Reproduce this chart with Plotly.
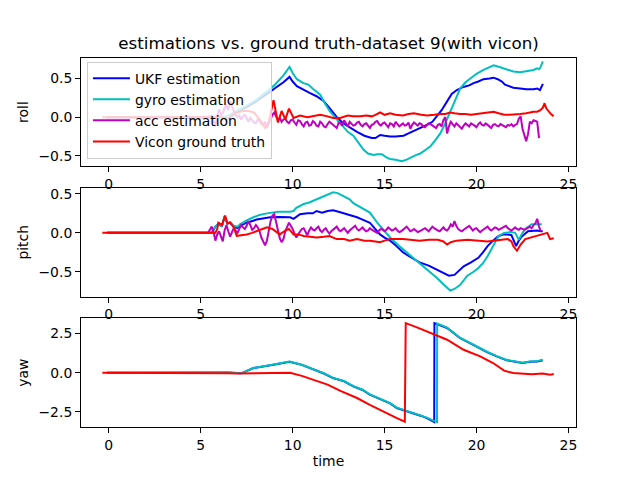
import plotly.graph_objects as go

# ---------------- data ----------------
# roll
roll_ukf_t = [-0.1, 2, 4, 6.3, 6.5, 7.0, 7.5, 8.0, 8.5, 9.0, 9.5, 9.83, 10.0, 10.23, 10.6, 10.95, 11.3, 11.68, 12.0, 12.4,
              12.75, 13.13, 13.5, 13.9, 14.3, 14.5, 14.76, 15.0, 15.3, 15.6, 16.03, 16.3, 16.57, 17.0, 17.3, 17.6, 17.85,
              18.1, 18.39, 18.65, 18.93, 19.29, 19.6, 19.84, 20.1, 20.38, 20.7, 20.93, 21.15, 21.38, 21.55, 21.74, 22.0,
              22.38, 22.7, 23.1, 23.3, 23.45, 23.61]
roll_ukf_v = [0.0, 0.0, 0.0, 0.0, 0.02, 0.07, 0.13, 0.2, 0.28, 0.36, 0.45, 0.52, 0.46, 0.40, 0.35, 0.31, 0.27, 0.21, 0.12, 0.0,
              -0.08, -0.14, -0.19, -0.24, -0.27, -0.27, -0.23, -0.24, -0.25, -0.25, -0.24, -0.21, -0.18, -0.14, -0.10, -0.06, 0.01,
              0.09, 0.20, 0.30, 0.35, 0.39, 0.41, 0.44, 0.46, 0.49, 0.50, 0.51, 0.49, 0.46, 0.42, 0.40, 0.38,
              0.37, 0.36, 0.36, 0.37, 0.35, 0.43]

roll_gyro_t = [-0.1, 2, 4, 6.3, 6.5, 7.0, 7.5, 8.0, 8.5, 9.0, 9.5, 9.83, 10.0, 10.23, 10.59, 10.85, 11.13, 11.5, 11.75, 12.04,
               12.4, 12.76, 13.0, 13.3, 13.6, 13.85, 14.1, 14.4, 14.6, 14.85, 15.1, 15.3, 15.6, 15.94, 16.2, 16.49, 16.7,
               16.94, 17.2, 17.48, 17.75, 18.03, 18.3, 18.57, 18.85, 19.11, 19.4, 19.66, 20.0, 20.38, 20.65, 20.93, 21.2,
               21.47, 21.75, 22.0, 22.38, 22.65, 22.92, 23.1, 23.29, 23.4, 23.47, 23.61]
roll_gyro_v = [0.0, 0.0, 0.0, 0.0, 0.02, 0.08, 0.15, 0.22, 0.31, 0.41, 0.54, 0.65, 0.57, 0.49, 0.44, 0.42, 0.36, 0.29, 0.18, 0.07,
               -0.03, -0.13, -0.19, -0.24, -0.33, -0.42, -0.47, -0.49, -0.48, -0.48, -0.52, -0.54, -0.55, -0.57, -0.55, -0.51, -0.49,
               -0.47, -0.43, -0.38, -0.30, -0.21, -0.08, 0.07, 0.23, 0.37, 0.45, 0.50, 0.56, 0.61, 0.64, 0.67, 0.65,
               0.63, 0.61, 0.59, 0.58, 0.59, 0.60, 0.61, 0.63, 0.62, 0.64, 0.72]

roll_acc_t = [-0.1, 2, 4, 5.4, 5.6, 5.7, 5.8, 5.9, 6.0, 6.1, 6.2, 6.3, 6.4, 6.5, 6.6, 6.7, 6.8, 6.9, 7.0, 7.1, 7.2, 7.3, 7.4,
              7.5, 7.6, 7.7, 7.8, 7.9, 8.0, 8.1, 8.2, 8.3, 8.4, 8.5, 8.6, 8.7, 8.8, 8.9, 9.0, 9.1, 9.2, 9.3, 9.4, 9.5,
              9.6, 9.7, 9.8, 9.9, 10.0, 10.1, 10.2, 10.3, 10.4, 10.5, 10.6, 10.7, 10.8, 10.9, 11.0, 11.1, 11.2, 11.3,
              11.4, 11.5, 11.6, 11.7, 11.8, 11.9, 12.0, 12.1, 12.2, 12.3, 12.4, 12.5, 12.6, 12.7, 12.8, 12.9, 13.0,
              13.1, 13.2, 13.3, 13.4, 13.5, 13.6, 13.7, 13.8, 13.9, 14.0, 14.1, 14.2, 14.3, 14.4, 14.5, 14.6, 14.7,
              14.8, 14.9, 15.0, 15.1, 15.2, 15.3, 15.4, 15.5, 15.6, 15.7, 15.8, 15.9, 16.0, 16.1, 16.2, 16.3, 16.4,
              16.5, 16.6, 16.7, 16.8, 16.9, 17.0, 17.1, 17.2, 17.3, 17.4, 17.5, 17.6, 17.7, 17.8, 17.9, 18.0, 18.1,
              18.2, 18.3, 18.4, 18.5, 18.6, 18.7, 18.8, 18.9, 19.0, 19.1, 19.2, 19.3, 19.4, 19.5, 19.6, 19.7, 19.8,
              19.9, 20.0, 20.1, 20.2, 20.3, 20.4, 20.5, 20.6, 20.7, 20.8, 20.9, 21.0, 21.1, 21.2, 21.3, 21.4, 21.5,
              21.6, 21.7, 21.8, 21.9, 22.0, 22.1, 22.2, 22.3, 22.4, 22.5, 22.6, 22.7, 22.8, 22.9, 23.0, 23.1, 23.2,
              23.3, 23.4, 23.5, 23.6]
roll_acc_v = [0.0, 0.0, 0.0, 0.0, 0.02, -0.05, -0.12, 0.02, 0.10, 0.03, 0.05, 0.12, 0.15, 0.09, 0.21, 0.14, 0.08, 0.03, 0.0,
              0.02, -0.03, 0.01, 0.03, -0.02, -0.06, -0.01, -0.04, -0.07, -0.08, -0.03, -0.05, -0.09, -0.10, -0.06, -0.14,
              -0.08, -0.02, 0.03, 0.06, 0.0, -0.04, -0.01, -0.06, -0.03, -0.02, -0.06, -0.08, -0.04, -0.03, -0.07, -0.10,
              -0.04, -0.05, -0.09, -0.12, -0.07, -0.06, -0.11, -0.10, -0.05, -0.07, -0.11, -0.12, -0.06, -0.08, -0.12,
              -0.13, -0.09, -0.06, -0.08, -0.10, -0.13, -0.14, -0.07, -0.08, -0.11, -0.04, -0.08, -0.12, -0.06, -0.08,
              -0.11, -0.10, -0.07, -0.06, -0.10, -0.12, -0.09, -0.08, -0.11, -0.14, -0.10, -0.09, -0.06, -0.05, -0.09,
              -0.11, -0.08, -0.07, -0.10, -0.13, -0.08, -0.09, -0.12, -0.06, -0.09, -0.12, -0.10, -0.08, -0.11, -0.10,
              -0.07, -0.15, -0.10, -0.07, -0.09, -0.11, -0.08, -0.09, -0.12, -0.13, -0.10, -0.08, -0.09, -0.11, -0.13,
              -0.14, -0.10, -0.09, -0.12, -0.04, 0.0, -0.21, -0.12, -0.06, -0.09, -0.12, -0.08, -0.10, -0.13, -0.15,
              -0.11, -0.08, -0.10, -0.12, -0.08, -0.09, -0.11, -0.13, -0.09, -0.07, -0.10, -0.11, -0.08, -0.10, -0.12,
              -0.14, -0.10, -0.09, -0.11, -0.12, -0.09, -0.10, -0.12, -0.13, -0.10, -0.11, -0.09, -0.12, -0.10, -0.09,
              -0.02, 0.01, -0.15, -0.24, -0.31, -0.22, -0.06, -0.08, -0.04, -0.05, -0.06, -0.27]

roll_vicon_t = [-0.35, 2, 4, 5.8, 6.0, 6.5, 6.96, 7.3, 7.6, 7.9, 8.2, 8.5, 8.7, 8.96, 9.2, 9.4, 9.6, 9.8, 10.05, 10.4, 10.8,
                11.2, 11.5, 11.9, 12.2, 12.58, 12.8, 13.0, 13.3, 13.67, 14.0, 14.3, 14.5, 14.76, 15.0, 15.3, 15.6, 16.0,
                16.3, 16.6, 17.0, 17.3, 17.7, 18.0, 18.3, 18.57, 18.8, 19.1, 19.4, 19.7, 20.0, 20.38, 20.7, 20.93, 21.2,
                21.5, 21.8, 22.1, 22.38, 22.7, 23.1, 23.3, 23.47, 23.6, 23.7, 23.8, 23.92, 24.05, 24.19]
roll_vicon_v = [0.0, 0.0, 0.0, 0.0, 0.01, -0.02, 0.06, 0.08, 0.08, 0.06, -0.03, -0.14, -0.06, 0.22, -0.07, 0.08, -0.03, 0.11,
                -0.01, 0.02, 0.0, 0.02, 0.03, 0.01, -0.01, -0.01, 0.01, 0.02, 0.01, 0.01, 0.02, 0.01, 0.03, 0.06, 0.03, 0.05,
                0.03, 0.02, 0.04, 0.05, 0.03, 0.02, 0.03, 0.04, 0.04, 0.06, 0.05, 0.04, 0.04, 0.03, 0.04, 0.05, 0.06, 0.07,
                0.05, 0.03, 0.03, 0.04, 0.04, 0.05, 0.07, 0.07, 0.09, 0.12, 0.18, 0.11, 0.07, 0.04, 0.01]

# pitch
pitch_ukf_t = [-0.1, 2, 4, 5.4, 5.6, 5.8, 6.0, 6.15, 6.3, 6.45, 6.6, 6.8, 7.0, 7.14, 7.5, 8.05, 8.5, 8.78, 9.3, 9.86, 10.05,
               10.2, 10.4, 10.8, 11.1, 11.3, 11.6, 11.9, 12.2, 12.5, 12.8, 13.1, 13.5, 13.8, 14.2, 14.45, 14.75, 15.0,
               15.3, 15.6, 16.0, 16.4, 16.9, 17.4, 17.85, 18.2, 18.5, 18.8, 19.0, 19.3, 19.7, 20.1, 20.35, 20.6, 20.9,
               21.2, 21.5, 21.7, 21.9, 22.0, 22.15, 22.3, 22.45, 22.8, 23.1, 23.3, 23.5, 23.6]
pitch_ukf_v = [0.0, 0.0, 0.0, 0.0, 0.0, 0.08, 0.12, 0.08, 0.21, 0.12, 0.13, 0.08, 0.06, 0.09, 0.13, 0.17, 0.19, 0.20, 0.205,
               0.20, 0.18, 0.21, 0.24, 0.25, 0.25, 0.28, 0.26, 0.28, 0.29, 0.27, 0.25, 0.23, 0.20, 0.17, 0.13, 0.06, -0.02,
               -0.06, -0.10, -0.16, -0.25, -0.31, -0.38, -0.42, -0.47, -0.51, -0.55, -0.54, -0.50, -0.43, -0.38, -0.32,
               -0.25, -0.17, -0.10, -0.04, -0.02, -0.02, -0.03, -0.08, -0.17, -0.10, -0.05, 0.02, 0.03, 0.03, 0.02, 0.02]

pitch_gyro_t = [-0.1, 2, 4, 5.4, 5.6, 5.8, 6.0, 6.15, 6.3, 6.45, 6.6, 6.8, 7.0, 7.14, 7.5, 7.87, 8.2, 8.6, 9.2, 9.86, 10.05,
                10.2, 10.6, 10.9, 11.3, 11.6, 11.9, 12.2, 12.45, 12.7, 13.1, 13.3, 13.7, 14.2, 14.6, 15.0, 15.3, 15.85,
                16.4, 16.9, 17.4, 17.85, 18.2, 18.57, 18.8, 19.1, 19.5, 19.84, 20.1, 20.35, 20.6, 20.9, 21.2, 21.5,
                21.85, 22.1, 22.3, 22.5, 22.7, 23.0, 23.3, 23.55]
pitch_gyro_v = [0.0, 0.0, 0.0, 0.0, 0.0, 0.08, 0.12, 0.08, 0.22, 0.12, 0.14, 0.09, 0.08, 0.11, 0.16, 0.20, 0.23, 0.25, 0.27,
                0.27, 0.28, 0.32, 0.37, 0.39, 0.43, 0.45, 0.48, 0.52, 0.51, 0.48, 0.43, 0.38, 0.33, 0.26, 0.13, 0.02, -0.06,
                -0.18, -0.29, -0.38, -0.48, -0.58, -0.66, -0.74, -0.72, -0.67, -0.55, -0.50, -0.45, -0.39, -0.30, -0.16,
                -0.04, 0.0, 0.01, 0.0, -0.09, 0.0, 0.06, 0.11, 0.11, 0.11]

pitch_acc_t = roll_acc_t
pitch_acc_v = [0.0, 0.0, 0.0, 0.0, 0.08, 0.01, -0.10, -0.02, 0.02, -0.06, -0.11, 0.03, 0.10, 0.02, -0.05, 0.01, 0.06, 0.03,
               0.0, 0.05, 0.10, 0.07, 0.05, 0.09, 0.15, 0.10, 0.04, 0.06, 0.10, 0.07, 0.02, -0.06, -0.12, -0.16, -0.10, 0.03,
               0.15, 0.22, 0.24, 0.14, 0.02, -0.07, -0.12, -0.08, 0.02, 0.08, 0.13, 0.09, 0.05, -0.01, -0.06, -0.02, 0.02,
               0.05, 0.06, 0.01, -0.03, 0.03, 0.07, 0.04, 0.03, 0.06, 0.08, 0.03, 0.01, 0.04, 0.06, 0.02, -0.01, 0.02, 0.04,
               0.07, 0.08, 0.04, 0.02, 0.04, 0.06, 0.03, 0.0, 0.03, 0.05, 0.07, 0.09, 0.05, 0.03, 0.05, 0.07, 0.04, 0.02,
               0.03, 0.06, 0.04, 0.03, 0.01, 0.0, 0.03, 0.05, 0.04, 0.02, 0.04, 0.07, 0.05, 0.03, 0.04, 0.06, 0.03, 0.01,
               0.02, 0.04, 0.06, 0.08, 0.05, 0.02, 0.03, 0.05, 0.03, 0.01, 0.02, 0.03, 0.05, 0.06, 0.04, 0.02, 0.05, 0.08,
               0.06, 0.04, 0.03, 0.02, 0.05, 0.07, 0.04, 0.03, 0.06, 0.11, 0.08, 0.15, 0.09, 0.05, 0.03, 0.02, 0.04, 0.06,
               0.07, 0.09, 0.06, 0.03, 0.05, 0.06, 0.03, 0.01, 0.03, 0.05, 0.07, 0.08, 0.05, 0.03, 0.05, 0.07, 0.06, 0.04,
               0.05, 0.06, 0.08, 0.09, 0.06, 0.05, 0.03, 0.05, 0.07, 0.05, 0.04, 0.06, 0.05, 0.04, 0.05, 0.07, 0.08, 0.06,
               0.10, 0.12, 0.18, 0.08, 0.02]

pitch_vicon_t = [-0.35, 2, 4, 5.8, 5.9, 5.96, 6.15, 6.33, 6.45, 6.6, 6.8, 6.96, 7.2, 7.5, 7.8, 8.05, 8.3, 8.6, 8.9, 9.1, 9.3,
                 9.6, 9.8, 10.05, 10.3, 10.6, 11.0, 11.3, 11.7, 12.0, 12.4, 12.8, 13.1, 13.5, 13.9, 14.2, 14.5, 14.75,
                 15.0, 15.3, 15.7, 16.0, 16.4, 16.9, 17.4, 17.9, 18.2, 18.4, 18.6, 18.9, 19.5, 19.9, 20.2, 20.6, 20.9,
                 21.3, 21.7, 21.9, 22.0, 22.2, 22.4, 22.65, 23.1, 23.5, 23.85, 24.0, 24.2]
pitch_vicon_v = [0.0, 0.0, 0.0, 0.0, 0.05, 0.13, 0.10, 0.22, 0.12, 0.13, 0.07, -0.04, -0.03, -0.02, 0.0, 0.02, 0.05, 0.07,
                 0.05, 0.01, -0.02, 0.03, 0.05, -0.02, -0.02, -0.04, -0.05, -0.06, -0.05, -0.04, -0.08, -0.08, -0.10,
                 -0.08, -0.10, -0.10, -0.11, -0.12, -0.10, -0.08, -0.08, -0.08, -0.09, -0.10, -0.09, -0.09, -0.11, -0.15,
                 -0.12, -0.10, -0.09, -0.10, -0.10, -0.11, -0.10, -0.09, -0.08, -0.11, -0.17, -0.23, -0.15, -0.08, -0.05,
                 -0.03, 0.0, -0.08, -0.07]

# yaw
yaw_ukf_t = [-0.1, 6.0, 6.5, 7.2, 7.87, 8.96, 9.83, 10.5, 11.13, 11.7, 12.2, 12.8, 13.3, 13.8, 14.2, 14.9, 15.3, 15.67,
             16.1, 16.57, 17.0, 17.3, 17.66, 17.7, 17.71, 18.0, 18.4, 19.1, 19.6, 20.2, 20.6, 21.1, 21.65, 22.2, 22.5,
             22.9, 23.3, 23.6]
yaw_ukf_v = [0.0, 0.0, 0.02, -0.04, 0.30, 0.51, 0.70, 0.50, 0.23, -0.05, -0.34, -0.55, -0.87, -1.10, -1.40, -1.72, -1.95,
             -2.25, -2.40, -2.57, -2.75, -2.89, -3.10, -3.14, 3.16, 3.02, 2.85, 2.21, 1.90, 1.57, 1.30, 1.04, 0.79, 0.68,
             0.62, 0.70, 0.72, 0.80]

yaw_gyro_t = [-0.1, 6.0, 6.5, 7.2, 7.87, 8.96, 9.83, 10.5, 11.13, 11.7, 12.2, 12.8, 13.3, 13.8, 14.2, 14.9, 15.3, 15.67,
              16.1, 16.57, 17.0, 17.3, 17.66, 17.85, 17.86, 18.0, 18.4, 19.1, 19.6, 20.2, 20.6, 21.1, 21.65, 22.2, 22.5,
              22.9, 23.3, 23.6]
yaw_gyro_v = [0.0, 0.0, 0.02, -0.04, 0.30, 0.52, 0.71, 0.51, 0.24, -0.04, -0.33, -0.53, -0.85, -1.08, -1.38, -1.70, -1.93,
              -2.22, -2.38, -2.55, -2.73, -2.86, -3.05, -3.14, 3.14, 3.07, 2.87, 2.23, 1.92, 1.59, 1.32, 1.06, 0.81, 0.70,
              0.64, 0.72, 0.74, 0.83]

yaw_vicon_t = [-0.35, 6.0, 6.5, 7.0, 7.5, 9.86, 10.5, 11.1, 11.9, 12.6, 13.5, 14.2, 14.9, 15.67, 16.1, 16.15, 16.76, 17.5,
               18.4, 19.3, 20.2, 20.9, 21.5, 22.0, 22.5, 23.0, 23.6, 23.8, 24.0, 24.2]
yaw_vicon_v = [0.0, 0.0, -0.04, -0.05, -0.04, 0.0, -0.20, -0.45, -0.76, -1.15, -1.61, -2.04, -2.46, -2.89, -3.12, 3.16,
               2.89, 2.53, 2.10, 1.46, 1.04, 0.62, 0.13, -0.02, -0.08, -0.10, -0.05, -0.10, -0.12, -0.08]

series_names = ["UKF estimation", "gyro estimation", "acc estimation", "Vicon ground truth"]
series_colors = ["#0000ff", "#00bfbf", "#bf00bf", "#ff0000"]

x_ticks = [0, 5, 10, 15, 20, 25]
roll_ticks = [-0.5, 0.0, 0.5]
roll_ticktext = ["\u22120.5", "0.0", "0.5"]
yaw_ticks = [-2.5, 0.0, 2.5]
yaw_ticktext = ["\u22122.5", "0.0", "2.5"]

# ---------------- figure ----------------
FONT = "DejaVu Sans"
fig = go.Figure()

panels = [
    ("x", "y", [(roll_ukf_t, roll_ukf_v), (roll_gyro_t, roll_gyro_v), (roll_acc_t, roll_acc_v), (roll_vicon_t, roll_vicon_v)]),
    ("x2", "y2", [(pitch_ukf_t, pitch_ukf_v), (pitch_gyro_t, pitch_gyro_v), (pitch_acc_t, pitch_acc_v), (pitch_vicon_t, pitch_vicon_v)]),
    ("x3", "y3", [(yaw_ukf_t, yaw_ukf_v), (yaw_gyro_t, yaw_gyro_v), None, (yaw_vicon_t, yaw_vicon_v)]),
]
for pi, (xa, ya, data) in enumerate(panels):
    for si, d in enumerate(data):
        if d is None:
            continue
        fig.add_trace(go.Scatter(x=d[0], y=d[1], mode="lines", xaxis=xa, yaxis=ya,
                                 name=series_names[si], legendgroup=series_names[si],
                                 showlegend=(pi == 0),
                                 line=dict(color=series_colors[si], width=2)))

axis_common = dict(showline=True, mirror=True, linecolor="black", linewidth=1, ticks="outside",
                   ticklen=5, tickwidth=1, tickcolor="black", showgrid=False, zeroline=False,
                   automargin=False,
                   tickfont=dict(family=FONT, size=13.9, color="black"))

H_DOM = [0.0, 1.0]
fig.update_layout(
    width=640, height=480,
    margin=dict(l=81, r=64, t=58, b=53),
    paper_bgcolor="white", plot_bgcolor="white",
    font=dict(family=FONT, size=13.9, color="black"),
    title=dict(text="estimations vs. ground truth-dataset 9(with vicon)", x=0.5, xref="paper",
               y=1 - 43 / 480, yref="container", yanchor="middle", xanchor="center",
               font=dict(family=FONT, size=16.7, color="black")),
    showlegend=True,
    legend=dict(x=0.012, y=0.99, xanchor="left", yanchor="top", xref="paper", yref="paper",
                bgcolor="rgba(255,255,255,0.8)", bordercolor="#cccccc", borderwidth=1,
                font=dict(family=FONT, size=13.9, color="black"),
                itemwidth=37, tracegroupgap=0, traceorder="grouped"),
    xaxis=dict(domain=H_DOM, anchor="y", range=[-1.51, 25.41], tickvals=x_ticks, **axis_common),
    xaxis2=dict(domain=H_DOM, anchor="y2", range=[-1.51, 25.41], tickvals=x_ticks, **axis_common),
    xaxis3=dict(domain=H_DOM, anchor="y3", range=[-1.51, 25.41], tickvals=x_ticks,
                title=dict(text="time", font=dict(family=FONT, size=13.9), standoff=4), **axis_common),
    yaxis=dict(domain=[0.707, 1.0], anchor="x", range=[-0.633, 0.764], tickvals=roll_ticks, ticktext=roll_ticktext,
               title=dict(text="roll", font=dict(family=FONT, size=13.9), standoff=6), **axis_common),
    yaxis2=dict(domain=[0.353, 0.648], anchor="x2", range=[-0.82, 0.577], tickvals=roll_ticks, ticktext=roll_ticktext,
                title=dict(text="pitch", font=dict(family=FONT, size=13.9), standoff=6), **axis_common),
    yaxis3=dict(domain=[0.0, 0.295], anchor="x3", range=[-3.455, 3.475], tickvals=yaw_ticks, ticktext=yaw_ticktext,
                title=dict(text="yaw", font=dict(family=FONT, size=13.9), standoff=6), **axis_common),
)

fig.write_html("out.html", config={"displayModeBar": False},
               post_script="document.body.style.margin='0';document.body.style.padding='0';")
